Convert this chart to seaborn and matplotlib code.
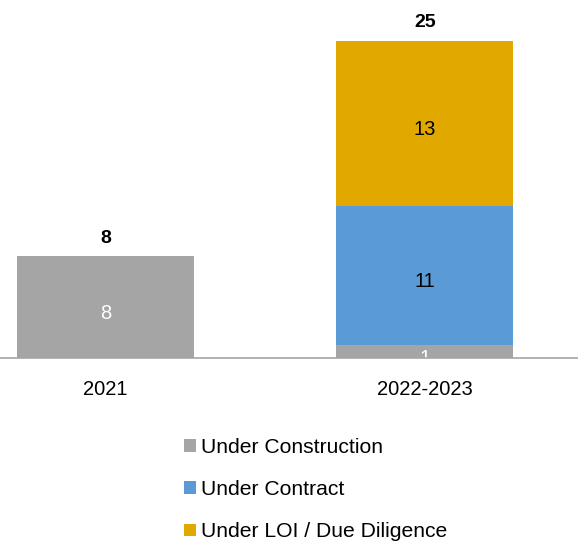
import matplotlib
matplotlib.use("Agg")
import matplotlib.pyplot as plt
import seaborn as sns
import pandas as pd
import numpy as np
from matplotlib.patches import Patch

periods = ["2021", "2022-2023"]
under_construction = [8, 1]
under_contract = [0, 11]
under_loi = [0, 13]
series_names = ["Under Construction", "Under Contract", "Under LOI / Due Diligence"]
series_colors = ["#A5A5A5", "#5B9BD5", "#E1A800"]
label_colors = ["white", "black", "black"]

sns.set_theme(style="white")
plt.rcParams["font.family"] = ["Liberation Sans", "DejaVu Sans"]
plt.rcParams["text.color"] = "black"

layers = [np.array(under_construction), np.array(under_contract), np.array(under_loi)]
cum = np.cumsum(layers, axis=0)
totals = cum[-1]

fig = plt.figure(figsize=(5.78, 5.42), dpi=100)
ax = fig.add_axes([0.0, 184 / 542, 1.0, 1 - 184 / 542])

# stacked bars: draw cumulative heights from the top layer down
for i in reversed(range(len(layers))):
    df = pd.DataFrame({"period": periods, "value": cum[i]})
    sns.barplot(data=df, x="period", y="value", color=series_colors[i],
                width=0.555, saturation=1, ax=ax, linewidth=0)

# segment labels
for i, layer in enumerate(layers):
    base = cum[i] - layer
    for x, (b, v) in enumerate(zip(base, layer)):
        if v > 0:
            ax.text(x, b + v / 2 - 0.5, f"{v}", ha="center", va="center",
                    fontsize=14.5, color=label_colors[i], clip_on=True)

# totals above bars
for x, t in enumerate(totals):
    ax.text(x, t + 1.45, f"{t}", ha="center", va="center",
            fontsize=14, fontweight="bold", color="black")

ax.set_xlim(-0.33, 1.48)
ax.set_ylim(0, 28.2)
ax.set_xlabel("")
ax.set_ylabel("")
ax.set_yticks([])
ax.tick_params(axis="x", length=0, pad=16, labelsize=14.5, colors="black")
for s in ["top", "right", "left"]:
    ax.spines[s].set_visible(False)
ax.spines["bottom"].set_color("#A6A6A6")
ax.spines["bottom"].set_linewidth(1.2)
ax.spines["bottom"].set_zorder(5)

handles = [Patch(facecolor=c, edgecolor="none") for c in series_colors]
fig.legend(handles, series_names, loc="upper left", bbox_to_anchor=(184 / 578, 1 - 438 / 542),
           frameon=False, fontsize=15.2, handlelength=0.55, handleheight=0.55,
           handletextpad=0.25, labelspacing=1.1, borderpad=0, borderaxespad=0,
           labelcolor="black")

fig.savefig("out.png", dpi=100)
